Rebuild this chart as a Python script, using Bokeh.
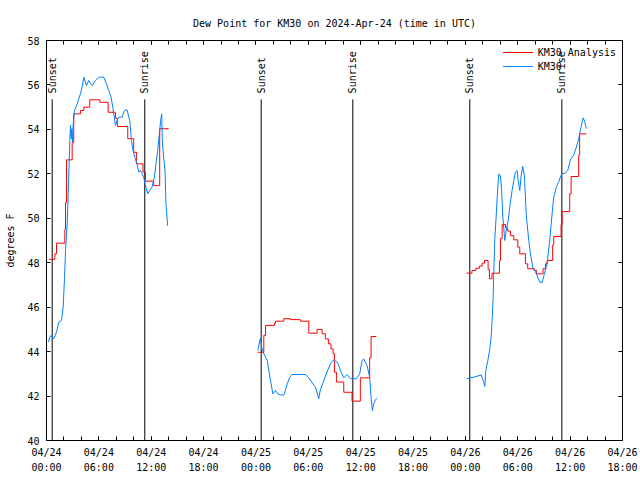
import math
from bokeh.plotting import figure
from bokeh.models import FixedTicker, LinearAxis, Range1d, Legend, LegendItem
from bokeh.embed import file_html
from bokeh.resources import INLINE
from bokeh.core.properties import value

FONT = "DejaVu Sans Mono"

# ---------------- data (hours since 2024-04-24 00:00 UTC) ----------------
# KM30 Analysis (red, stepped)
ana1_t = [0.27, 0.96, 1.15, 2.10, 2.18, 2.29, 2.94, 3.12, 3.89, 4.28, 4.96, 6.11, 7.06,
          7.90, 8.12, 9.31, 9.99, 10.30, 11.06, 11.33, 12.28, 12.97, 14.0]
ana1_v = [48.15, 48.4, 48.88, 49.5, 50.7, 52.63, 53.4, 54.7, 54.85, 55.0, 55.33, 55.22, 54.77,
          54.5, 54.13, 53.58, 52.97, 52.45, 52.08, 51.67, 51.47, 54.03, 54.03]
ana2_t = [24.22, 24.90, 25.10, 26.13, 26.24, 27.19, 27.96, 29.10, 30.06, 31.01, 31.58, 31.95,
          32.3, 32.6, 32.84, 32.99, 33.22, 34.06, 35.01, 35.96, 37.03, 37.19, 37.79]
ana2_v = [43.97, 44.73, 45.18, 45.28, 45.37, 45.48, 45.44, 45.37, 44.83, 45.0, 44.8, 44.57,
          44.35, 44.12, 43.9, 43.07, 42.63, 42.17, 41.77, 42.82, 43.72, 44.68, 44.68]
ana3_t = [48.13, 48.75, 49.2, 49.6, 49.92, 50.19, 50.6, 50.75, 51.05, 51.9, 52.02, 52.21, 52.6,
          52.85, 53.16, 53.54, 54.0, 54.23, 54.88, 55.14, 55.91, 56.14, 56.9, 57.17, 57.36,
          58.0, 58.12, 58.96, 59.08, 59.95, 60.11, 60.98, 61.09, 61.86]
ana3_v = [47.53, 47.65, 47.75, 47.85, 47.98, 48.1, 47.7, 47.28, 47.53, 48.1, 49.08, 49.72, 49.57,
          49.42, 49.22, 49.03, 48.7, 48.4, 47.95, 47.73, 47.65, 47.5, 47.73, 47.95, 48.1,
          48.8, 49.18, 49.72, 50.3, 51.1, 51.88, 52.83, 53.8, 53.8]

# KM30 observations (blue)
obs1_t = [0.20, 0.46, 0.84, 1.15, 1.42, 1.72, 1.91, 2.06, 2.18, 2.37, 2.48, 2.60, 2.67, 2.75,
          2.83, 2.90, 2.98, 3.06, 3.21, 3.44, 3.70, 3.89, 4.08, 4.28, 4.58, 4.85, 5.23, 5.61,
          5.99, 6.56, 6.87, 7.13, 7.40, 7.63, 7.90, 8.09, 8.28, 8.66, 8.93, 9.23, 9.54, 9.73,
          9.92, 10.11, 10.37, 10.57, 10.76, 10.95, 11.14, 11.29, 11.60, 11.82, 12.09, 12.36,
          12.55, 12.74, 12.97, 13.08, 13.20, 13.27, 13.42, 13.58, 13.69, 13.88]
obs1_v = [44.43, 44.72, 44.58, 44.88, 45.33, 45.40, 46.0, 47.28, 48.55, 49.75, 51.1, 52.53, 53.5,
          54.18, 53.58, 54.03, 53.43, 54.25, 54.85, 55.07, 55.38, 55.6, 55.9, 56.35, 55.97, 56.2,
          55.97, 56.2, 56.35, 56.35, 56.05, 55.75, 55.45, 54.92, 54.18, 54.4, 54.55, 54.55, 54.85,
          54.88, 54.4, 53.5, 53.05, 52.75, 52.45, 52.08, 52.15, 52.0, 51.85, 51.55, 51.1, 51.25,
          51.4, 51.85, 52.45, 53.05, 53.95, 54.4, 54.7, 53.5, 52.75, 52.15, 50.65, 49.67]
obs2_t = [24.22, 24.45, 24.53, 24.65, 24.83, 25.10, 25.29, 25.48, 25.67, 25.94, 26.24, 26.51,
          26.81, 27.19, 27.38, 27.58, 27.88, 28.15, 29.67, 30.06, 30.44, 30.82, 31.20, 31.39,
          31.70, 31.96, 32.27, 32.61, 32.91, 33.37, 33.68, 34.06, 34.44, 34.82, 35.51, 35.89,
          36.16, 36.35, 36.73, 37.03, 37.19, 37.34, 37.49, 37.68, 37.87]
obs2_v = [44.05, 44.53, 44.6, 44.2, 43.97, 43.75, 43.6, 43.15, 42.7, 42.1, 42.25, 42.1, 42.05,
          42.05, 42.25, 42.55, 42.85, 42.97, 42.97, 42.82, 42.6, 42.4, 41.88, 42.3, 42.6, 42.9,
          43.2, 43.5, 43.63, 43.5, 43.15, 42.82, 42.97, 42.78, 42.78, 43.0, 43.6, 43.67, 43.37,
          42.85, 41.95, 41.35, 41.65, 41.82, 41.9]
obs3_t = [48.13, 48.97, 49.81, 50.04, 50.23, 50.34, 50.57, 50.8, 50.95, 51.07, 51.18, 51.25,
          51.37, 51.52, 51.64, 51.83, 52.02, 52.13, 52.29, 52.51, 52.67, 52.9, 53.08, 53.35,
          53.54, 53.73, 53.93, 54.04, 54.23, 54.38, 54.57, 54.76, 54.99, 55.26, 55.45, 55.76,
          56.02, 56.29, 56.51, 56.79, 57.05, 57.36, 57.66, 57.93, 58.12, 58.42, 58.69, 58.96,
          59.08, 59.45, 59.72, 60.03, 60.4, 60.71, 60.98, 61.25, 61.48, 61.63, 61.86]
obs3_v = [42.78, 42.85, 42.95, 42.7, 42.43, 43.15, 43.6, 44.13, 44.65, 45.48, 46.45, 47.57,
          49.08, 50.05, 50.95, 52.0, 51.9, 51.4, 50.05, 49.0, 49.45, 49.9, 50.5, 51.25, 51.7,
          52.08, 52.15, 51.7, 51.25, 51.9, 52.33, 51.9, 50.05, 49.0, 48.4, 47.73, 47.6, 47.35,
          47.12, 47.12, 47.5, 47.95, 49.0, 50.2, 50.95, 51.4, 51.65, 51.93, 52.0, 52.03, 52.15,
          52.63, 52.83, 53.2, 53.58, 54.1, 54.52, 54.4, 54.03]

sun_t = [0.65, 11.26, 24.6, 35.1, 48.5, 59.05]
sun_labels = ["Sunset", "Sunrise", "Sunset", "Sunrise", "Sunset", "Sunrise"]

x_tick_hours = [0, 6, 12, 18, 24, 30, 36, 42, 48, 54, 60, 66]
x_tick_labels = ["04/24\n00:00", "04/24\n06:00", "04/24\n12:00", "04/24\n18:00",
                 "04/25\n00:00", "04/25\n06:00", "04/25\n12:00", "04/25\n18:00",
                 "04/26\n00:00", "04/26\n06:00", "04/26\n12:00", "04/26\n18:00"]
x_minor_hours = list(range(0, 67, 2))
y_ticks = [40, 42, 44, 46, 48, 50, 52, 54, 56, 58]

# ---------------- figure ----------------
p = figure(width=640, height=480, output_backend="svg", toolbar_location=None,
           x_range=Range1d(0, 66), y_range=Range1d(40, 58),
           min_border_left=46, min_border_right=18, min_border_top=40, min_border_bottom=40)
p.grid.visible = False
p.outline_line_color = "black"
p.background_fill_color = "white"
p.border_fill_color = "white"

p.title.text = "Dew Point for KM30 on 2024-Apr-24 (time in UTC)"
p.title.align = "center"
p.title.text_font = FONT
p.title.text_font_size = "10px"
p.title.text_font_style = "normal"
p.title.text_color = "black"
p.title.standoff = 24


def style_axis(ax):
    ax.axis_line_color = "black"
    ax.major_tick_line_color = "black"
    ax.minor_tick_line_color = "black"
    ax.major_tick_in = 4
    ax.major_tick_out = 0
    ax.minor_tick_in = 4
    ax.minor_tick_out = 0
    ax.major_label_text_font = FONT
    ax.major_label_text_font_size = "10px"
    ax.major_label_text_color = "black"


xt = FixedTicker(ticks=x_tick_hours, minor_ticks=x_minor_hours)
yt = FixedTicker(ticks=y_ticks, minor_ticks=[])

p.xaxis.ticker = xt
p.xaxis.major_label_overrides = {h: lab for h, lab in zip(x_tick_hours, x_tick_labels)}
p.xaxis.major_label_standoff = 6
p.xaxis.major_label_text_line_height = 1.45
style_axis(p.xaxis[0])

p.yaxis.ticker = yt
p.yaxis.axis_label = "degrees F"
p.yaxis.axis_label_text_font = FONT
p.yaxis.axis_label_text_font_size = "10px"
p.yaxis.axis_label_text_font_style = "normal"
p.yaxis.axis_label_text_color = "black"
p.yaxis.axis_label_standoff = 8
p.yaxis.major_label_standoff = 7
style_axis(p.yaxis[0])

# mirrored tick marks on top and right (no labels)
top = LinearAxis(ticker=xt, major_label_standoff=0)
style_axis(top)
top.major_label_text_color = None
top.major_label_text_font_size = "1px"
p.add_layout(top, "above")
right = LinearAxis(ticker=yt, major_label_standoff=0)
style_axis(right)
right.major_label_text_color = None
right.major_label_text_font_size = "1px"
p.add_layout(right, "right")

# sunrise / sunset markers
p.segment(x0=sun_t, y0=[40] * len(sun_t), x1=sun_t, y1=[55.35] * len(sun_t),
          line_color="black", line_width=1)
p.text(x=sun_t, y=[55.62] * len(sun_t), text=sun_labels, angle=math.pi / 2,
       text_align="left", text_baseline="middle", text_font=value(FONT),
       text_font_size="10px", text_color="black")

# series
red = "#ff0000"
blue = "#0080ff"
r_ana = [p.step(x=t, y=v, mode="after", line_color=red, line_width=1)
         for t, v in [(ana1_t, ana1_v), (ana2_t, ana2_v), (ana3_t, ana3_v)]]
r_obs = [p.line(x=t, y=v, line_color=blue, line_width=1)
         for t, v in [(obs1_t, obs1_v), (obs2_t, obs2_v), (obs3_t, obs3_v)]]

legend = Legend(items=[LegendItem(label="KM30 Analysis", renderers=r_ana),
                       LegendItem(label="KM30", renderers=r_obs)],
                location="top_right")
legend.border_line_color = None
legend.background_fill_alpha = 0
legend.label_text_font = FONT
legend.label_text_font_size = "10px"
legend.label_text_color = "black"
legend.glyph_width = 30
legend.glyph_height = 12
legend.label_height = 12
legend.spacing = 2
legend.padding = 2
legend.margin = 6
p.add_layout(legend)

open("out.html", "w").write(file_html(p, INLINE))
